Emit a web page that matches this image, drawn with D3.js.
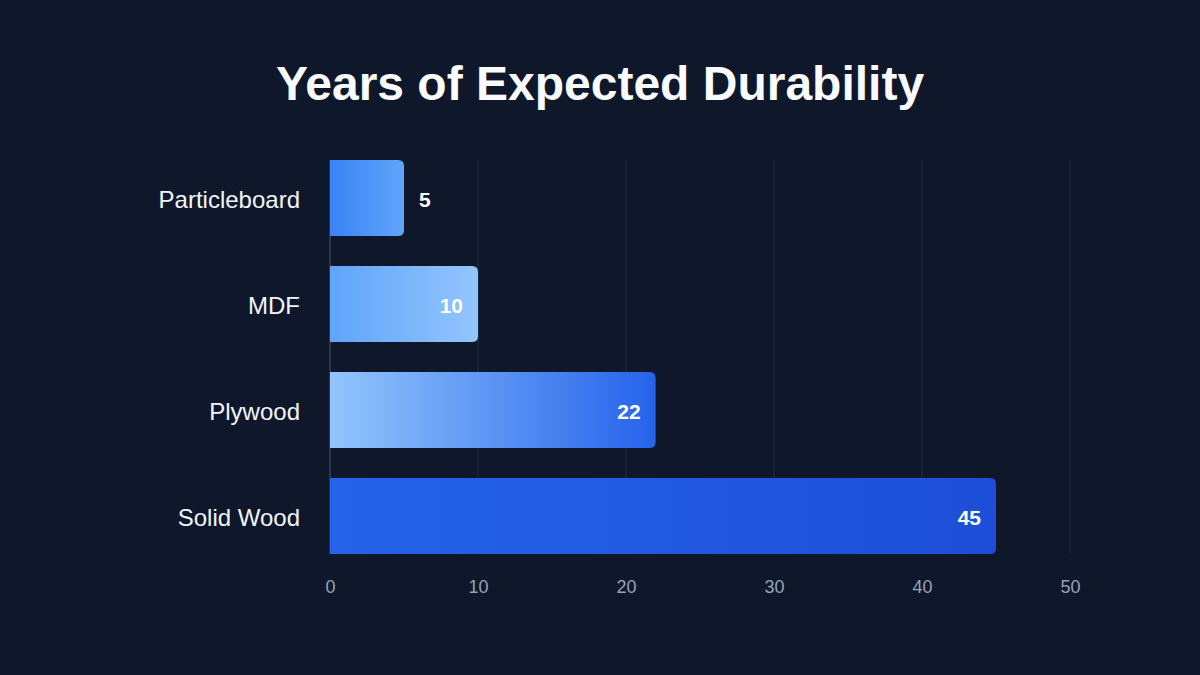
<!DOCTYPE html>
<html>
<head>
<meta charset="utf-8">
<script src="https://cdn.jsdelivr.net/npm/d3@7"></script>
<style>
  html, body { margin: 0; padding: 0; background: #0f172a; }
  svg { display: block; font-family: "Liberation Sans", Arial, sans-serif; }
</style>
</head>
<body>
<svg id="chart"></svg>
<script>
// data
const materials = ["Particleboard", "MDF", "Plywood", "Solid Wood"];
const years = [5, 10, 22, 45];
const xTicks = [0, 10, 20, 30, 40, 50];
const gradientStops = [
  ["#3b82f6", "#60a5fa"],
  ["#60a5fa", "#93c5fd"],
  ["#93c5fd", "#2563eb"],
  ["#2563eb", "#1d4ed8"]
];

const width = 1200, height = 675;
const margin = {top: 160, right: 130, bottom: 121, left: 330};

const svg = d3.select("#chart")
  .attr("width", width)
  .attr("height", height);

svg.append("rect")
  .attr("width", width)
  .attr("height", height)
  .attr("fill", "#0f172a");

// title
svg.append("text")
  .attr("x", width / 2)
  .attr("y", 100)
  .attr("text-anchor", "middle")
  .attr("font-size", 48)
  .attr("font-weight", "bold")
  .attr("fill", "#f8fafc")
  .text("Years of Expected Durability");

const x = d3.scaleLinear()
  .domain([0, 50])
  .range([margin.left, width - margin.right]);

const y = d3.scaleBand()
  .domain(materials)
  .range([margin.top, height - margin.bottom])
  .paddingInner(0.283)
  .paddingOuter(0);

// gradients
const defs = svg.append("defs");
materials.forEach((m, i) => {
  const g = defs.append("linearGradient")
    .attr("id", "grad" + i)
    .attr("x1", "0%").attr("x2", "100%")
    .attr("y1", "0%").attr("y2", "0%");
  g.append("stop").attr("offset", "0%").attr("stop-color", gradientStops[i][0]);
  g.append("stop").attr("offset", "100%").attr("stop-color", gradientStops[i][1]);
});

// grid lines
svg.append("g")
  .selectAll("line")
  .data(xTicks)
  .join("line")
  .attr("x1", d => x(d))
  .attr("x2", d => x(d))
  .attr("y1", margin.top)
  .attr("y2", height - margin.bottom)
  .attr("stroke", d => d == 0 ? "#334155" : "#1e293b")
  .attr("stroke-width", 1.5);

// x axis labels
const xAxis = g => g
  .attr("transform", `translate(0,${height - margin.bottom})`)
  .call(d3.axisBottom(x).tickValues(xTicks).tickSize(0).tickPadding(26))
  .call(g => g.select(".domain").remove())
  .call(g => g.selectAll(".tick text")
    .attr("fill", "#94a3b8")
    .attr("font-size", 18)
    .attr("font-family", "Liberation Sans, Arial, sans-serif"));

svg.append("g").call(xAxis);

// category labels
const yAxis = g => g
  .attr("transform", `translate(${margin.left},0)`)
  .call(d3.axisLeft(y).tickSize(0).tickPadding(30))
  .call(g => g.select(".domain").remove())
  .call(g => g.selectAll(".tick text")
    .attr("fill", "#f1f5f9")
    .attr("font-size", 24)
    .attr("dy", "0.4em")
    .attr("font-family", "Liberation Sans, Arial, sans-serif"));

svg.append("g").call(yAxis);

// bars with rounded right end
const r = 6;
function barPath(x0, x1, y0, h) {
  const w = x1 - x0;
  const rr = Math.min(r, w / 2);
  return `M${x0},${y0}H${x1 - rr}Q${x1},${y0} ${x1},${y0 + rr}` +
    `V${y0 + h - rr}Q${x1},${y0 + h} ${x1 - rr},${y0 + h}H${x0}Z`;
}

const rows = materials.map((m, i) => ({name: m, value: years[i], i}));

svg.append("g")
  .selectAll("path")
  .data(rows)
  .join("path")
  .attr("d", d => barPath(x(0), x(d.value), y(d.name), y.bandwidth()))
  .attr("fill", d => `url(#grad${d.i})`);

// value labels
svg.append("g")
  .selectAll("text")
  .data(rows)
  .join("text")
  .attr("x", d => {
    const w = x(d.value) - x(0);
    return w > 100 ? x(d.value) - 15 : x(d.value) + 15;
  })
  .attr("y", d => y(d.name) + y.bandwidth() / 2)
  .attr("dy", "0.42em")
  .attr("text-anchor", d => (x(d.value) - x(0)) > 100 ? "end" : "start")
  .attr("font-size", 21)
  .attr("font-weight", "bold")
  .attr("fill", "#ffffff")
  .text(d => d.value);
</script>
</body>
</html>
